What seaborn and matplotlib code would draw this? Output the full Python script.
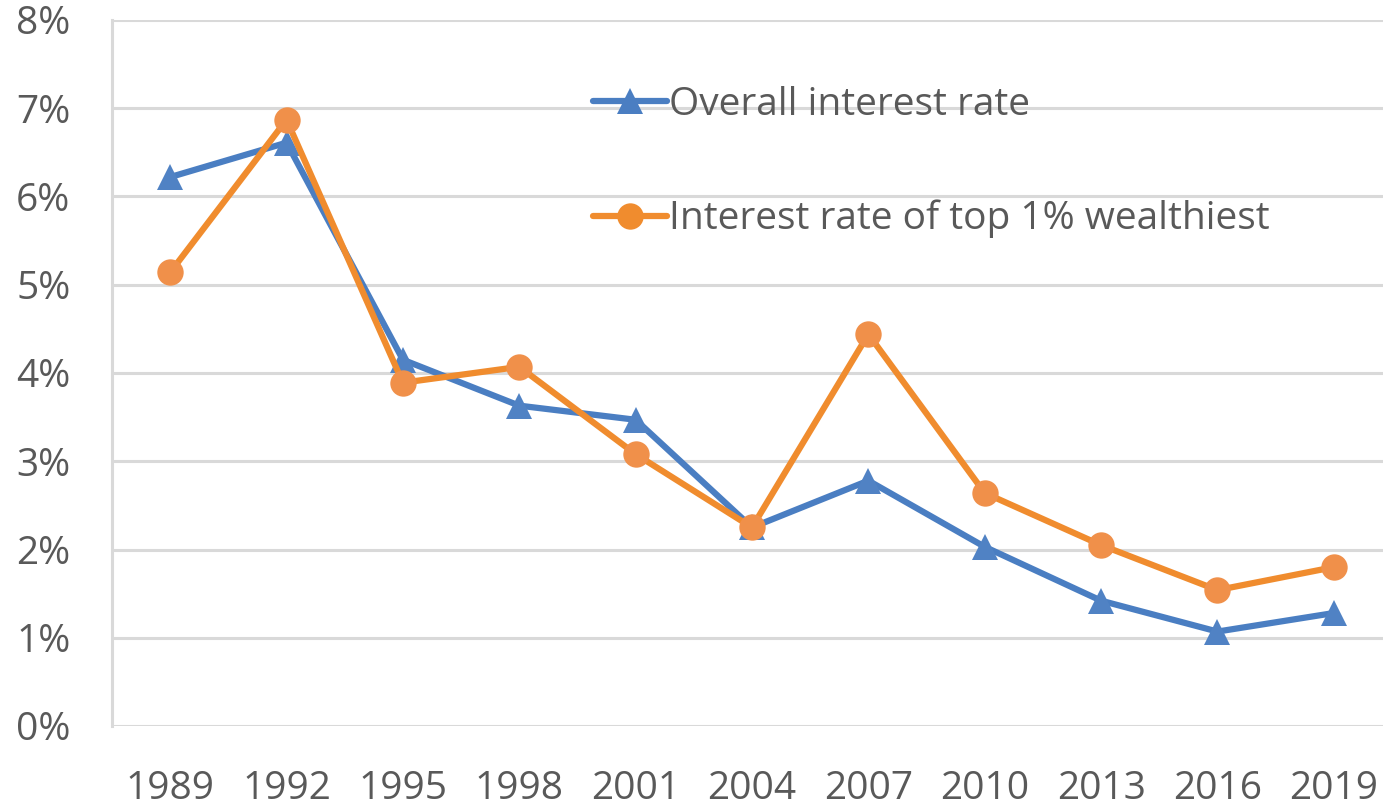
import matplotlib
matplotlib.use("Agg")
import matplotlib.pyplot as plt
import seaborn as sns
import pandas as pd
from matplotlib.ticker import FuncFormatter

years = ["1989", "1992", "1995", "1998", "2001", "2004", "2007", "2010", "2013", "2016", "2019"]
overall = [6.22, 6.61, 4.15, 3.63, 3.47, 2.25, 2.78, 2.03, 1.42, 1.07, 1.28]
top1 = [5.14, 6.87, 3.89, 4.07, 3.08, 2.25, 4.44, 2.64, 2.05, 1.54, 1.80]
labels = ["Overall interest rate", "Interest rate of top 1% wealthiest"]

sns.set_theme(style="white")
plt.rcParams['font.family'] = ['Open Sans', 'DejaVu Sans']

W, H = 1383, 806
fig = plt.figure(figsize=(W / 100, H / 100), dpi=100)
left, right_px, top_px, bottom_px = 112, 1392, 20, 726
ax = fig.add_axes([left / W, 1 - bottom_px / H, (right_px - left) / W, (bottom_px - top_px) / H])

df = pd.DataFrame({
    "year": years * 2,
    "value": overall + top1,
    "series": [labels[0]] * len(years) + [labels[1]] * len(years),
})

blue = "#4A7EC2"
orange = "#F08C2E"
sns.lineplot(data=df, x="year", y="value", hue="series", style="series",
             palette=[blue, orange], markers=["^", "o"], dashes=False,
             linewidth=4.5, markersize=19, markeredgewidth=0, ax=ax, sort=False)

for line, mc in zip(ax.lines[:2], ["#5082C4", "#F0904A"]):
    line.set_markerfacecolor(mc)

ax.set_xlim(-0.5, 10.5)
ax.set_ylim(0, 8)
ax.set_yticks(range(0, 9))
ax.yaxis.set_major_formatter(FuncFormatter(lambda v, p: f"{int(v)}%"))
ax.grid(axis="y", color="#D9D9D9", linewidth=2.2)
ax.set_axisbelow(True)
for s in ["top", "right", "bottom"]:
    ax.spines[s].set_visible(False)
ax.spines["left"].set_color("#D9D9D9")
ax.spines["left"].set_linewidth(2.2)
ax.tick_params(axis="y", length=0, pad=30, labelsize=28, labelcolor="#595959")
ax.tick_params(axis="x", length=0, pad=32, labelsize=28, labelcolor="#595959")
ax.set_xlabel("")
ax.set_ylabel("")

handles, labs = ax.get_legend_handles_labels()
leg = ax.legend(handles, labs, loc="upper left", bbox_to_anchor=(593 / W, 1 - 86 / H),
                bbox_transform=fig.transFigure, frameon=False, fontsize=28,
                labelcolor="#595959", handlelength=1.9, handletextpad=0.05,
                labelspacing=1.95, borderpad=0, borderaxespad=0)
for h in leg.legend_handles:
    h.set_linewidth(4.5)
    h.set_markersize(19)

fig.savefig("out.png", dpi=100)
